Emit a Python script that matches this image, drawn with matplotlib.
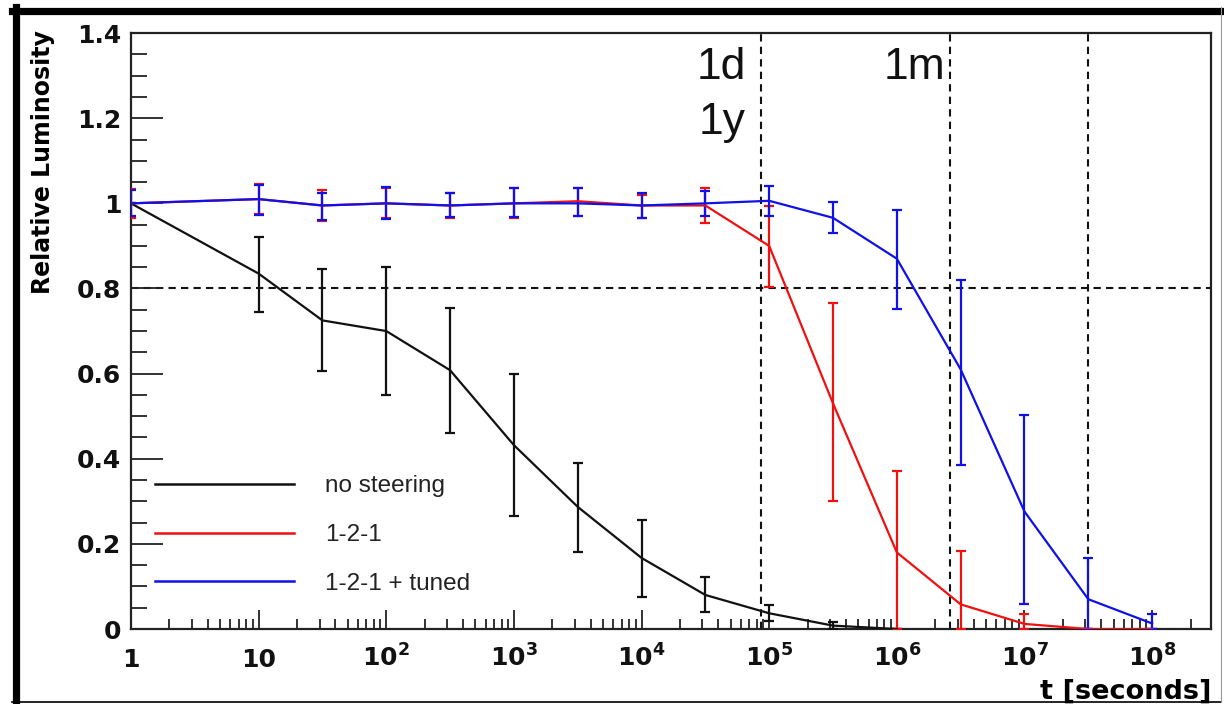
import matplotlib
matplotlib.use("Agg")
import matplotlib.pyplot as plt
from matplotlib.lines import Line2D
from matplotlib.ticker import FixedLocator, FixedFormatter, LogLocator, MultipleLocator, NullFormatter

plt.rcParams['font.family'] = ['Liberation Sans', 'DejaVu Sans']
plt.rcParams['mathtext.fontset'] = 'dejavusans'

# time points [s]
t_sec = [1, 10, 31.62, 100, 316.2, 1000, 3162, 1e4, 31620, 1e5,
         316200, 1e6, 3162000, 1e7, 31620000, 1e8]

# no steering
black_t = t_sec[:12]
black_y = [1.0, 0.835, 0.725, 0.70, 0.608, 0.432, 0.287, 0.167, 0.08, 0.037, 0.008, 0.0]
black_lo = [1.0, 0.745, 0.605, 0.55, 0.46, 0.265, 0.18, 0.075, 0.04, 0.02, 0.0, 0.0]
black_hi = [1.0, 0.92, 0.845, 0.85, 0.755, 0.60, 0.39, 0.255, 0.122, 0.056, 0.016, 0.0]

# 1-2-1
red_y = [1.0, 1.01, 0.995, 1.0, 0.995, 1.0, 1.005, 0.995, 0.995, 0.90,
         0.53, 0.18, 0.058, 0.012, 0.0, 0.0]
red_lo = [0.966, 0.975, 0.958, 0.965, 0.965, 0.965, 0.97, 0.965, 0.955, 0.803,
          0.30, 0.0, 0.0, 0.0, 0.0, 0.0]
red_hi = [1.033, 1.045, 1.031, 1.035, 1.025, 1.035, 1.035, 1.02, 1.035, 0.993,
          0.765, 0.372, 0.184, 0.035, 0.0, 0.0]

# 1-2-1 + tuned
blue_y = [1.0, 1.01, 0.995, 1.0, 0.995, 1.0, 1.0, 0.995, 1.0, 1.006,
          0.966, 0.87, 0.61, 0.276, 0.07, 0.013]
blue_lo = [0.97, 0.972, 0.961, 0.963, 0.968, 0.968, 0.97, 0.965, 0.97, 0.970,
           0.930, 0.752, 0.385, 0.059, 0.0, 0.0]
blue_hi = [1.031, 1.043, 1.025, 1.038, 1.025, 1.035, 1.035, 1.025, 1.03, 1.041,
           1.004, 0.984, 0.82, 0.503, 0.168, 0.035]

labels = ['no steering', '1-2-1', '1-2-1 + tuned']
colors = ['#111111', '#f01010', '#1010e8']

# reference times: 1 day, 1 month, 1 year
ref_t = [86400, 2592000, 31536000]
ref_names = ['1d', '1m', '1y']

xtick_pos = [1, 10, 1e2, 1e3, 1e4, 1e5, 1e6, 1e7, 1e8]
xtick_lab = ['1', '10', r'$\mathbf{10^{2}}$', r'$\mathbf{10^{3}}$', r'$\mathbf{10^{4}}$',
             r'$\mathbf{10^{5}}$', r'$\mathbf{10^{6}}$', r'$\mathbf{10^{7}}$', r'$\mathbf{10^{8}}$']
ytick_pos = [0, 0.2, 0.4, 0.6, 0.8, 1.0, 1.2, 1.4]
ytick_lab = ['0', '0.2', '0.4', '0.6', '0.8', '1', '1.2', '1.4']


def err(y, lo, hi):
    return [[a - b for a, b in zip(y, lo)], [b - a for a, b in zip(y, hi)]]


fig = plt.figure(figsize=(12.24, 7.04), dpi=100)
ax = fig.add_axes([0.107, 0.1065, 0.8825, 0.8465])

# dashed guide lines
for t in ref_t:
    ax.axvline(t, color='#111111', lw=1.5, ls=(0, (3.5, 2.5)), zorder=1)
ax.axhline(0.8, color='#111111', lw=1.5, ls=(0, (3.5, 2.5)), zorder=1)

series = [
    (black_t, black_y, black_lo, black_hi),
    (t_sec, red_y, red_lo, red_hi),
    (t_sec, blue_y, blue_lo, blue_hi),
]
handles = []
for (tx, y, lo, hi), c, lab in zip(series, colors, labels):
    ax.errorbar(tx, y, yerr=err(y, lo, hi), color=c, lw=1.6, elinewidth=1.6,
                capsize=3.8, capthick=1.6, zorder=3)
    handles.append(Line2D([], [], color=c, lw=1.8, label=lab))

ax.set_xscale('log')
ax.set_xlim(1, 2.9e8)
ax.set_ylim(0, 1.4)

ax.xaxis.set_major_locator(FixedLocator(xtick_pos))
ax.xaxis.set_major_formatter(FixedFormatter(xtick_lab))
ax.xaxis.set_minor_locator(LogLocator(base=10, subs=range(2, 10), numticks=20))
ax.xaxis.set_minor_formatter(NullFormatter())
ax.yaxis.set_major_locator(FixedLocator(ytick_pos))
ax.yaxis.set_major_formatter(FixedFormatter(ytick_lab))
ax.yaxis.set_minor_locator(MultipleLocator(0.05))

ax.tick_params(axis='both', which='both', direction='in', width=1.3, color='#222222',
               top=False, right=False, labelsize=18, labelcolor='#111111')
ax.tick_params(axis='x', which='major', length=13.5, pad=27)
ax.tick_params(axis='x', which='minor', length=7)
ax.tick_params(axis='y', which='major', length=23, pad=7)
ax.tick_params(axis='y', which='minor', length=11.5)
for lab in ax.get_xticklabels() + ax.get_yticklabels():
    lab.set_fontfamily('DejaVu Sans')
    lab.set_fontweight('bold')
for lab in ax.get_xticklabels():
    lab.set_va('baseline')

for s in ax.spines.values():
    s.set_linewidth(1.6)
    s.set_color('#222222')

ax.set_ylabel('Relative Luminosity', fontsize=17, fontweight='bold', loc='top',
              family='DejaVu Sans')
ax.yaxis.set_label_coords(-0.070, 1.005)
ax.set_xlabel('t [seconds]', fontsize=19.5, fontweight='bold', loc='right',
              family='DejaVu Sans')
ax.xaxis.set_label_coords(1.0, -0.084)

# time markers
ax.annotate(ref_names[0], (86400, 1.32), xytext=(-11, 0), textcoords='offset points',
            fontsize=32, ha='right', va='center', color='#111111')
ax.annotate(ref_names[2], (86400, 1.19), xytext=(-11, 0), textcoords='offset points',
            fontsize=32, ha='right', va='center', color='#111111')
ax.annotate(ref_names[1], (2592000, 1.32), xytext=(-3, 0), textcoords='offset points',
            fontsize=32, ha='right', va='center', color='#111111')

ax.legend(handles=handles, loc='upper left', bbox_to_anchor=(0.022, 0.258), frameon=False,
          fontsize=17.5, handlelength=5.75, handletextpad=1.25, labelspacing=1.1,
          borderpad=0, borderaxespad=0, labelcolor='#222222')

# outer frame of the picture
fig.add_artist(Line2D([12 / 1224, 1221 / 1224], [1 - 10.5 / 704] * 2, color='black', lw=5.2))
fig.add_artist(Line2D([15.5 / 1224] * 2, [1 - 7 / 704, 1 - 702 / 704], color='black', lw=5.2))
fig.add_artist(Line2D([12 / 1224, 1221 / 1224], [1 - 702 / 704] * 2, color='black', lw=1.2))
fig.add_artist(Line2D([1221 / 1224] * 2, [1 - 7 / 704, 1 - 702 / 704], color='#999999', lw=0.8))

fig.savefig('out.png', dpi=100)
